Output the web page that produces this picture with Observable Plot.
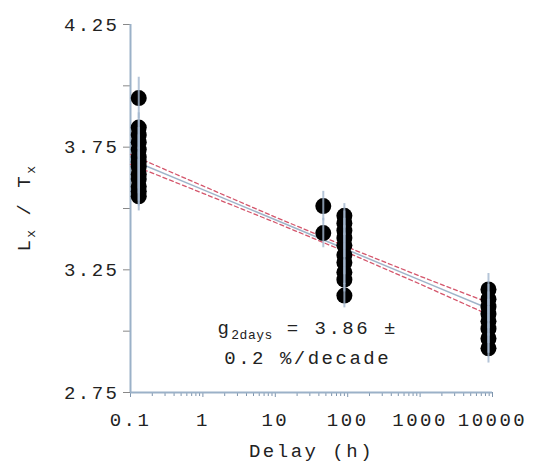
<!DOCTYPE html>
<html><head><meta charset="utf-8">
<script src="https://cdn.jsdelivr.net/npm/d3@7"></script>
<script src="https://cdn.jsdelivr.net/npm/@observablehq/plot@0.6"></script>
<style>body{margin:0;background:#fff} svg text{font-family:'Liberation Mono','DejaVu Sans Mono',monospace;}</style>
</head><body><div id="chart"></div>
<script>
// Measurements: delay (h), Lx/Tx value, error
const delays = [0.13,0.13,0.13,0.13,0.13,0.13,0.13,0.13,0.13,0.13,0.13,0.13,0.13,
                46,46,
                90,90,90,90,90,90,90,90,90,90,
                8800,8800,8800,8800,8800,8800,8800,8800];
const values = [3.95,3.83,3.80,3.77,3.74,3.71,3.69,3.67,3.64,3.62,3.59,3.57,3.55,
                3.51,3.40,
                3.47,3.44,3.41,3.38,3.35,3.31,3.28,3.24,3.21,3.145,
                3.17,3.13,3.10,3.07,3.04,3.01,2.97,2.93];
const errors = [0.085,0.06,0.06,0.06,0.06,0.06,0.06,0.06,0.06,0.06,0.06,0.06,0.06,
                0.06,0.06,
                0.05,0.05,0.05,0.05,0.05,0.05,0.05,0.05,0.05,0.05,
                0.065,0.06,0.06,0.06,0.06,0.06,0.06,0.06];
// Fit line and confidence band
const fitX = [0.1, 1, 10, 100, 1000, 10000];
const fitY = [3.70, 3.577, 3.454, 3.331, 3.208, 3.085];
const fitUpper = [3.72, 3.592, 3.465, 3.342, 3.224, 3.11];
const fitLower = [3.68, 3.562, 3.443, 3.320, 3.192, 3.06];
// Axes
const xTicks = [0.1, 1, 10, 100, 1000, 10000];
const xTickLabels = ["0.1", "1", "10", "100", "1000", "10000"];
const xMinorMult = [2,3,4,5,6,7,8,9];
const yTicks = [2.75, 3.25, 3.75, 4.25];
const yMinorTicks = [3.0, 3.5, 4.0];
const xLabel = "Delay (h)";
const yLabel = "L|x| / T|x|";
// Annotation
const annotText = ["g|2days| = 3.86 ±", "0.2 %/decade"];
const annotX = [28, 28];
const annotY = [3.015, 2.889];

const FONT = "'Liberation Mono', 'DejaVu Sans Mono', monospace";
const idx = d3.range(delays.length);
const xMinor = xTicks.slice(0, -1).flatMap(d => xMinorMult.map(m => d * m));
const fit = fitX.map((x, i) => ({x, y: fitY[i], u: fitUpper[i], l: fitLower[i]}));
const axisColor = "#9bb1c8";

const chart = Plot.plot({
  width: 538, height: 465,
  marginLeft: 130, marginRight: 46, marginTop: 24, marginBottom: 73,
  style: "background:#fff;color:#222;font-family:" + FONT,
  x: {type: "log", domain: [0.1, 10000], axis: null},
  y: {domain: [2.75, 4.25], axis: null},
  marks: [
    Plot.axisY({ticks: yMinorTicks, tickFormat: () => "", tickSize: 7, stroke: "#888", label: null}),
    Plot.axisY({ticks: yTicks, tickFormat: d => d.toFixed(2), tickSize: 7, tickPadding: 4, label: null,
                fontSize: 19, fontFamily: FONT, stroke: "#888", fill: "#222"}),
    Plot.axisX({ticks: xMinor, tickFormat: () => "", tickSize: 4, stroke: "#7f95ad", label: null}),
    Plot.axisX({ticks: xTicks, tickFormat: d => xTickLabels[xTicks.indexOf(d)], tickSize: 5, label: null,
                tickPadding: 15, fontSize: 19, fontFamily: FONT, stroke: "#7f95ad", fill: "#222"}),
    Plot.ruleX([0.1], {stroke: axisColor, strokeWidth: 2}),
    Plot.ruleY([2.75], {stroke: axisColor, strokeWidth: 2}),
    Plot.line(fit, {x: "x", y: "y", stroke: "#9fb4c9", strokeWidth: 1.5}),
    Plot.line(fit, {x: "x", y: "u", stroke: "#d4566c", strokeWidth: 1.3, strokeDasharray: "4,3"}),
    Plot.line(fit, {x: "x", y: "l", stroke: "#d4566c", strokeWidth: 1.3, strokeDasharray: "4,3"}),
    Plot.dot(idx, {x: i => delays[i], y: i => values[i], r: 8, fill: "#000"}),
    Plot.ruleX(idx, {x: i => delays[i], y1: i => values[i] - errors[i], y2: i => values[i] + errors[i],
                     stroke: "#a2b7ce", strokeWidth: 2, strokeOpacity: 0.8}),
    Plot.text(annotText, {x: (d, i) => annotX[i], y: (d, i) => annotY[i], text: d => d, fontFamily: FONT,
                          fontSize: 19, fill: "#222", textAnchor: "middle"}),
    Plot.text([xLabel], {frameAnchor: "bottom", dy: 64, text: d => d, fontSize: 19, fontFamily: FONT, fill: "#222"}),
    Plot.text([yLabel], {frameAnchor: "left", dx: -107, rotate: -90, textAnchor: "middle", text: d => d,
                         fontSize: 19, fontFamily: FONT, fill: "#222"})
  ]
});

// letter spacing for all texts like the reference's wide monospace
d3.select(chart).selectAll("text").style("letter-spacing", "2.5px");
// subscripts marked with |...|
d3.select(chart).selectAll("text").each(function() {
  const t = this.textContent;
  if (!t.includes("|")) return;
  const parts = t.split("|");
  const sel = d3.select(this);
  sel.text(null);
  parts.forEach((p, k) => {
    if (!p) return;
    const ts = sel.append("tspan").text(p);
    if (k % 2 === 1) ts.attr("font-size", "13px").attr("dy", "5px").style("letter-spacing", "0.5px");
    else if (k > 0) ts.attr("dy", "-5px");
  });
});
document.getElementById("chart").appendChild(chart);
</script>
</body></html>
